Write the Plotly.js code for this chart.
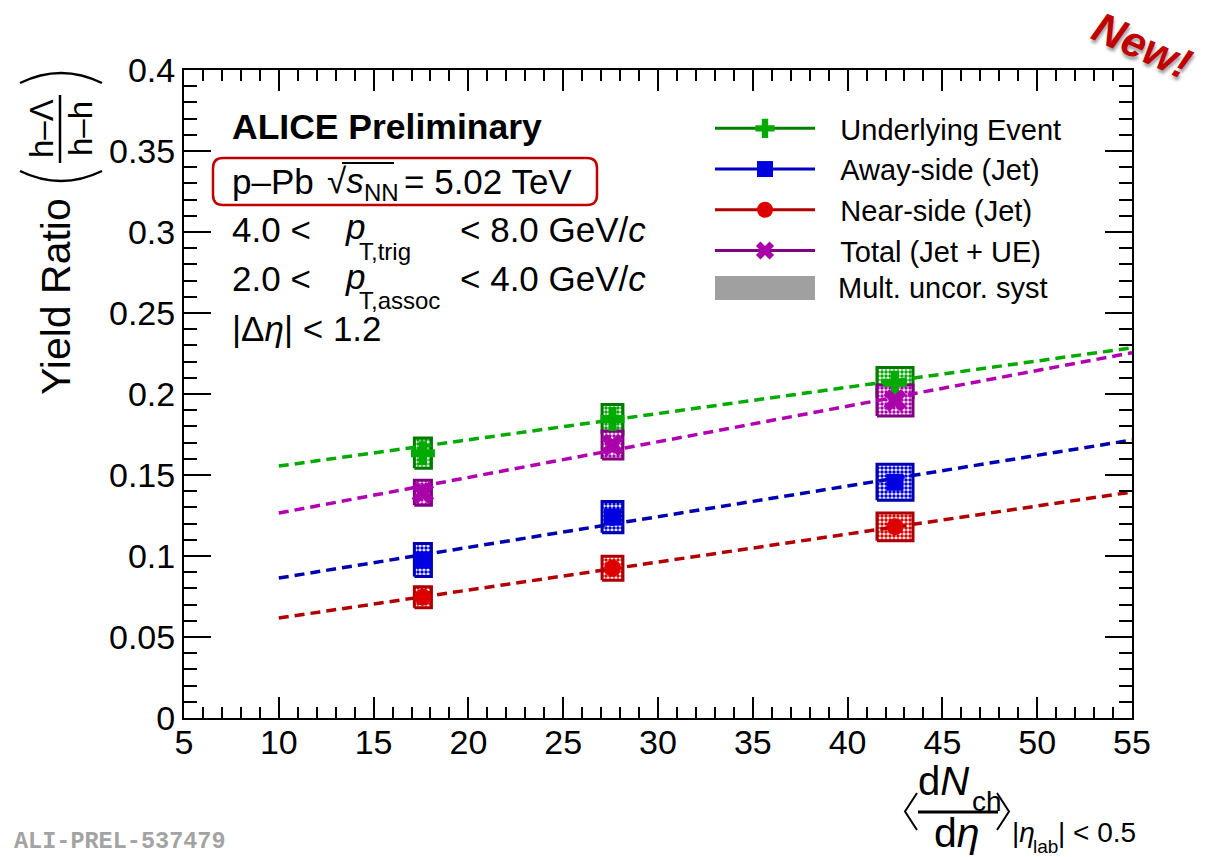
<!DOCTYPE html>
<html>
<head>
<meta charset="utf-8">
<script src="https://cdn.plot.ly/plotly-3.0.1.min.js"></script>
<style>html,body{margin:0;padding:0;background:#fff;}#chart{width:1208px;height:857px;}</style>
</head>
<body>
<div id="chart"></div>
<script>
// ---- data ----
const xMult = [17.6, 27.6, 42.5];
const xMultErr = [0.45, 0.55, 0.95];
const ueRatio = [0.1635, 0.1845, 0.207];
const ueSyst = [0.0093, 0.009, 0.0093];
const awayRatio = [0.0975, 0.124, 0.1455];
const awaySyst = [0.0102, 0.0096, 0.0111];
const nearRatio = [0.0745, 0.0925, 0.118];
const nearSyst = [0.0065, 0.0074, 0.0086];
const totalRatio = [0.139, 0.1685, 0.196];
const totalSyst = [0.0077, 0.0086, 0.0096];
const fitX = [10, 55];
const ueFit = [0.1555, 0.2285];
const awayFit = [0.0864, 0.1716];
const nearFit = [0.0617, 0.1395];
const totalFit = [0.1265, 0.2255];
const seriesNames = ['Underlying Event', 'Away-side (Jet)', 'Near-side (Jet)', 'Total (Jet + UE)'];
const systName = 'Mult. uncor. syst';

// ---- styles ----
const FONT = 'Liberation Sans, Arial, Helvetica, sans-serif';
const series = [
  {y: ueRatio, e: ueSyst, fit: ueFit, name: seriesNames[0], mk: '#00aa00', edge: '#007a00', fitc: '#00aa00', leg: '#008000', sym: 'cross', size: 20},
  {y: awayRatio, e: awaySyst, fit: awayFit, name: seriesNames[1], mk: '#0000e0', edge: '#0000b0', fitc: '#0000b0', leg: '#0000c0', sym: 'square', size: 17},
  {y: nearRatio, e: nearSyst, fit: nearFit, name: seriesNames[2], mk: '#dd0000', edge: '#aa0000', fitc: '#b00000', leg: '#b00000', sym: 'circle', size: 17},
  {y: totalRatio, e: totalSyst, fit: totalFit, name: seriesNames[3], mk: '#aa00aa', edge: '#800080', fitc: '#b000b0', leg: '#800080', sym: 'x', size: 20}
];

const traces = [];
// systematic boxes
series.forEach(s => {
  const bx = [], by = [];
  xMult.forEach((x, i) => {
    const dx = xMultErr[i], y = s.y[i], dy = s.e[i];
    bx.push(x - dx, x + dx, x + dx, x - dx, x - dx, null);
    by.push(y - dy, y - dy, y + dy, y + dy, y - dy, null);
  });
  traces.push({x: bx, y: by, type: 'scatter', mode: 'lines', fill: 'toself',
    line: {color: s.edge, width: 3}, fillcolor: 'rgba(0,0,0,0)',
    fillpattern: {shape: '.', fgcolor: s.mk, bgcolor: 'white', size: 4, solidity: 0.6},
    showlegend: false, hoverinfo: 'skip'});
});
// fit lines
series.forEach(s => {
  traces.push({x: fitX, y: s.fit, type: 'scatter', mode: 'lines',
    line: {color: s.fitc, width: 3.5, dash: '10px,6px'}, showlegend: false, hoverinfo: 'skip'});
});
// points
series.forEach(s => {
  traces.push({x: xMult, y: s.y, type: 'scatter', mode: 'markers',
    marker: {symbol: s.sym, size: s.size, color: s.mk, line: {width: 0}}, showlegend: false});
});
// legend entries
series.forEach(s => {
  traces.push({x: [null], y: [null], type: 'scatter', mode: 'lines+markers', name: '\u2002\u2009' + s.name,
    line: {color: s.leg, width: 3}, marker: {symbol: s.sym, size: s.size, color: s.mk}});
});

// pixel -> paper helpers (plot area 184..1132 x 70..718)
const L = 184, R = 1132, T = 70, B = 718;
const X = px => (px - L) / (R - L);
const Y = py => (B - py) / (B - T);
function ann(text, px, py, size, opt) {
  return Object.assign({xref: 'paper', yref: 'paper', x: X(px), y: Y(py), text: text, showarrow: false,
    xanchor: 'left', yanchor: 'middle', font: {family: FONT, size: size, color: 'black'}}, opt || {});
}
function line(x0, y0, x1, y1, w, c) {
  return {type: 'line', xref: 'paper', yref: 'paper', x0: X(x0), y0: Y(y0), x1: X(x1), y1: Y(y1),
    line: {color: c || 'black', width: w}};
}
function path(pts, w, c) {
  return {type: 'path', xref: 'paper', yref: 'paper', path: pts, line: {color: c || 'black', width: w}};
}
function rounded(x0, y0, x1, y1, r) {
  const p = (a, b) => X(a) + ',' + Y(b);
  return 'M' + p(x0 + r, y0) + ' L' + p(x1 - r, y0) + ' Q' + p(x1, y0) + ' ' + p(x1, y0 + r) +
    ' L' + p(x1, y1 - r) + ' Q' + p(x1, y1) + ' ' + p(x1 - r, y1) + ' L' + p(x0 + r, y1) +
    ' Q' + p(x0, y1) + ' ' + p(x0, y1 - r) + ' L' + p(x0, y0 + r) + ' Q' + p(x0, y0) + ' ' + p(x0 + r, y0) + ' Z';
}
const P = (a, b) => X(a) + ',' + Y(b);

const TF = 35;   // text block font
const SF = 24;   // subscript font
const annotations = [
  ann('<b>ALICE Preliminary</b>', 230, 127, 35.5),
  ann('p–Pb', 230, 181, TF),
  ann('√<i>s</i>', 325, 180, TF),
  ann('NN', 362, 193, SF),
  ann('= 5.02 TeV', 402, 181, TF),
  ann('4.0 <', 230, 229, TF),
  ann('<i>p</i>', 343, 227, TF),
  ann('T,trig', 357, 251, SF),
  ann('< 8.0 GeV/<i>c</i>', 458, 229, TF),
  ann('2.0 <', 230, 278, TF),
  ann('<i>p</i>', 343, 276, TF),
  ann('T,assoc', 357, 300, SF),
  ann('< 4.0 GeV/<i>c</i>', 458, 278, TF),
  ann('|Δ<i>η</i>| < 1.2', 230, 328, TF),
  // legend entry for the systematic boxes
  ann(systName, 836, 288, 29),
  // y title
  ann('Yield Ratio', 56, 297, 41, {xanchor: 'center', textangle: -90}),
  ann('h–Λ', 42, 129, 33, {xanchor: 'center', textangle: -90}),
  ann('h–h', 81, 129, 33, {xanchor: 'center', textangle: -90}),
  // x title
  ann('d<i>N</i>', 916, 781, 40),
  ann('ch', 970, 802, 28),
  ann('d<i>η</i>', 957, 833, 41, {xanchor: 'center'}),
  ann('|<i>η</i>', 1010, 832, 28),
  ann('lab', 1031, 846, 19),
  ann('| < 0.5', 1056, 832, 28),
  // labels
  ann('<b>ALI-PREL-537479</b>', 12, 841, 23.5, {font: {family: 'Liberation Mono, DejaVu Sans Mono, monospace', size: 23.5, color: '#a3a3a3'}}),
  ann('<b><i>New!</i></b>', 1142, 45, 43, {xanchor: 'center', textangle: 24,
    font: {family: FONT, size: 43, color: '#c00000', shadow: '2px 3px 3px rgba(0,0,0,0.35)'}})
];

const shapes = [
  path(rounded(213, 158, 597, 205, 10), 2.5, '#c00000'),
  line(342, 163, 394, 163, 2),
  line(60, 95, 60, 163, 2.5),
  path('M' + P(20, 83) + ' Q' + P(61, 63) + ' ' + P(102, 83), 2.5),
  path('M' + P(20, 171) + ' Q' + P(61, 191) + ' ' + P(102, 171), 2.5),
  line(918, 812, 998, 812, 3),
  path('M' + P(917, 793) + ' L' + P(905, 811.5) + ' L' + P(917, 830), 2),
  path('M' + P(997, 793) + ' L' + P(1009, 811.5) + ' L' + P(997, 830), 2),
  // legend swatch for the systematic boxes
  {type: 'rect', xref: 'paper', yref: 'paper', x0: X(715), x1: X(815), y0: Y(300), y1: Y(276),
    fillcolor: '#a0a0a0', line: {width: 0}}
];

const axisCommon = {showgrid: false, zeroline: false, showline: true, linecolor: 'black', linewidth: 2,
  mirror: 'allticks', ticks: 'inside', tickcolor: 'black', tickwidth: 2,
  tickfont: {family: FONT, size: 34, color: 'black'}};

const layout = {
  width: 1208, height: 857,
  margin: {l: L, r: 1208 - R, t: T, b: 857 - B, pad: 0},
  paper_bgcolor: 'white', plot_bgcolor: 'white',
  showlegend: true,
  legend: {x: X(710), xanchor: 'left', y: Y(103), yanchor: 'top', bgcolor: 'rgba(0,0,0,0)',
    font: {family: FONT, size: 29, color: 'black'}, itemwidth: 100, tracegroupgap: 0, traceorder: 'normal'},
  xaxis: Object.assign({}, axisCommon, {range: [5, 55], dtick: 5, tick0: 5, ticklen: 21, ticklabelstandoff: -7,
    minor: {dtick: 1, ticklen: 11, ticks: 'inside', tickcolor: 'black', tickwidth: 2}}),
  yaxis: Object.assign({}, axisCommon, {range: [0, 0.4], dtick: 0.05, tick0: 0, ticklen: 27,
    minor: {dtick: 0.01, ticklen: 13, ticks: 'inside', tickcolor: 'black', tickwidth: 2}}),
  annotations: annotations,
  shapes: shapes
};

Plotly.newPlot('chart', traces, layout, {displayModeBar: false, staticPlot: true});
</script>
</body>
</html>
